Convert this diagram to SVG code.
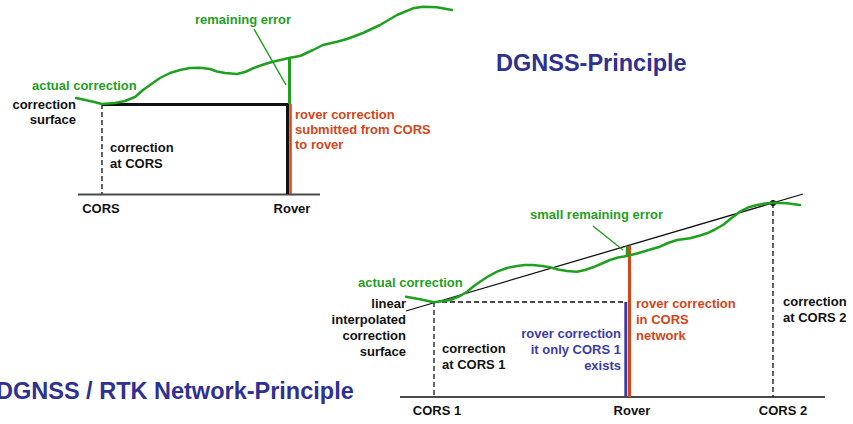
<svg xmlns="http://www.w3.org/2000/svg" width="853" height="424" viewBox="0 0 853 424">
  <style>
    text { font-family: "Liberation Sans", Arial, sans-serif; font-weight: bold; font-size: 13px; }
    .title { font-size: 23.5px; fill: #2e3192; }
    .blk { fill: #111111; }
    .grn { fill: #1fa01f; }
    .red { fill: #d4451a; }
    .blu { fill: #3c3ca6; }
    .end { text-anchor: end; }
    .mid { text-anchor: middle; }
    .curve { fill: none; stroke: #1fa01f; stroke-width: 2.5; stroke-linejoin: round; stroke-linecap: round; }
    .axis { fill: none; stroke: #4a4a4a; stroke-width: 2; }
    .dash { fill: none; stroke: #111111; stroke-width: 1.3; stroke-dasharray: 5 3; }
    .leader { fill: none; stroke: #1fa01f; stroke-width: 1.5; }
  </style>

  <!-- DGNSS principle -->
  <g id="dgnss">
    <g id="dgnss-axes">
      <line class="axis" x1="78" y1="194.5" x2="320" y2="194.5"/>
      <line class="dash" x1="102" y1="104" x2="102" y2="194"/>
      <polyline fill="none" stroke="#111111" stroke-width="3" points="102,104.5 287.5,104.5 287.5,194"/>
      <line x1="290.5" y1="104" x2="290.5" y2="194" stroke="#d4451a" stroke-width="2.5"/>
      <line x1="289.5" y1="58" x2="289.5" y2="104" stroke="#1fa01f" stroke-width="3"/>
    </g>
    <polyline id="dgnss-curve" class="curve" points="76,98 90,101 102,104 115,103 125,101 135,97 143,90 150,85 160,78 170,73 180,70 190,68 200,67.7 210,69 217,71.5 225,73 237,74 245,72 253,68.3 265,64 273,61.7 290,57.7 300,56 313,50 323,45 337,41.7 347,39 363,33 380,25 397,15 413,8.3 423,6.7 437,7.3 452,10"/>
    <line class="leader" x1="254" y1="29" x2="286" y2="85"/>
    <text class="grn" x="195" y="24">remaining error</text>
    <text class="grn" x="32" y="90">actual correction</text>
    <text class="blk end" x="76" y="109">correction</text>
    <text class="blk end" x="76" y="124">surface</text>
    <text class="blk" x="110" y="152">correction</text>
    <text class="blk" x="110" y="168">at CORS</text>
    <text class="red" x="295" y="119">rover correction</text>
    <text class="red" x="295" y="134">submitted from CORS</text>
    <text class="red" x="295" y="149">to rover</text>
    <text class="blk mid" x="101" y="213">CORS</text>
    <text class="blk mid" x="292" y="213">Rover</text>
  </g>

  <text id="title-dgnss" class="title" x="496" y="71">DGNSS-Principle</text>
  <text id="title-network" class="title" x="-4" y="399">DGNSS / RTK Network-Principle</text>

  <!-- Network principle -->
  <g id="network">
    <g id="network-axes">
      <line class="axis" x1="400" y1="397" x2="825" y2="397" stroke="#666666"/>
      <line class="dash" x1="434" y1="302" x2="434" y2="397"/>
      <line class="dash" x1="434" y1="302" x2="624" y2="302"/>
      <line class="dash" x1="773" y1="203" x2="773" y2="397"/>
      <line x1="406" y1="311" x2="803" y2="194" stroke="#111111" stroke-width="1.3"/>
      <line x1="625.8" y1="302" x2="625.8" y2="397" stroke="#3c3ca6" stroke-width="3"/>
      <line x1="629.5" y1="246" x2="629.5" y2="397" stroke="#d4451a" stroke-width="3"/>
      <line x1="627" y1="246" x2="627" y2="255" stroke="#1fa01f" stroke-width="2.5"/>
      <circle cx="773" cy="203" r="3" fill="#111111"/>
    </g>
    <polyline id="network-curve" class="curve" points="406,296.7 420,299.3 434,302.3 450,300 460,296 467,291.7 474,286 480,281.7 488,276.5 497,271.7 507,268 517,266 525,265 533,265 542,266 550,267.3 558,269.5 567,271 577,271.7 585,270 593,267.3 602,263.5 610,260 618,257.5 627,256 635,254 643,251.7 652,249 660,246.7 668,243 677,240 690,238.3 700,235.5 707,233.3 715,229.5 723,225 731,218.5 740,211.7 748,207.5 757,205 765,203.5 773,202.7 786.7,203.3 800,205"/>
    <line class="leader" x1="593" y1="226" x2="623" y2="250" stroke-width="1.2"/>
    <text class="grn" x="530" y="219">small remaining error</text>
    <text class="grn" x="358" y="287">actual correction</text>
    <text class="blk end" x="406" y="308">linear</text>
    <text class="blk end" x="406" y="324">interpolated</text>
    <text class="blk end" x="406" y="340">correction</text>
    <text class="blk end" x="406" y="356">surface</text>
    <text class="blk" x="442" y="353">correction</text>
    <text class="blk" x="442" y="369">at CORS 1</text>
    <text class="blu end" x="621" y="338">rover correction</text>
    <text class="blu end" x="621" y="354">it only CORS 1</text>
    <text class="blu end" x="621" y="370">exists</text>
    <text class="red" x="636" y="308">rover correction</text>
    <text class="red" x="636" y="324">in CORS</text>
    <text class="red" x="636" y="340">network</text>
    <text class="blk" x="783" y="306">correction</text>
    <text class="blk" x="783" y="322">at CORS 2</text>
    <text class="blk mid" x="437" y="415">CORS 1</text>
    <text class="blk mid" x="632" y="415">Rover</text>
    <text class="blk mid" x="783" y="415">CORS 2</text>
  </g>
</svg>
